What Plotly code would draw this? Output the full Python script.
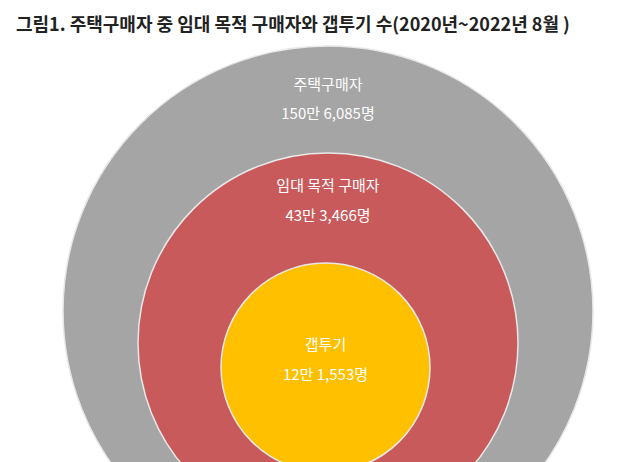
import plotly.graph_objects as go

title = "그림1. 주택구매자 중 임대 목적 구매자와 갭투기 수(2020년~2022년 8월 )"
groups = ["주택구매자", "임대 목적 구매자", "갭투기"]
counts = ["150만 6,085명", "43만 3,466명", "12만 1,553명"]
colors = ["#a5a5a5", "#c95a5b", "#ffc000"]

# circle boxes in pixel space (x0, y0, x1, y1); bottoms run past the frame
boxes = [(55, 38, 585, 568), (130, 145, 510, 525), (213, 255, 422, 464)]
label_y = [(78, 107), (179, 209), (338, 368)]

fig = go.Figure()
shapes = []
for (x0, y0, x1, y1), c in zip(boxes, colors):
    shapes.append(dict(type="circle", xref="x", yref="y", x0=x0, y0=y0, x1=x1, y1=y1,
                       fillcolor=c, line=dict(color="#e8e8e8", width=1.5), layer="below"))

for g, n, (ya, yb), (x0, _, x1, _) in zip(groups, counts, label_y, boxes):
    cx = (x0 + x1) / 2
    fig.add_trace(go.Scatter(x=[cx, cx], y=[ya, yb], mode="text", text=[g, n],
                             textfont=dict(color="white", size=15, family="Noto Sans CJK KR"),
                             hoverinfo="skip", showlegend=False))

fig.add_annotation(x=6, y=15, xref="x", yref="y", text="<b>" + title + "</b>", showarrow=False,
                   xanchor="left", yanchor="middle",
                   font=dict(size=18, color="#222", family="Noto Sans CJK KR"))

fig.update_layout(width=640, height=462, margin=dict(l=0, r=0, t=0, b=0),
                  plot_bgcolor="white", paper_bgcolor="white", shapes=shapes,
                  xaxis=dict(range=[0, 640], visible=False, fixedrange=True),
                  yaxis=dict(range=[462, 0], visible=False, fixedrange=True))
fig.write_html("out.html")
